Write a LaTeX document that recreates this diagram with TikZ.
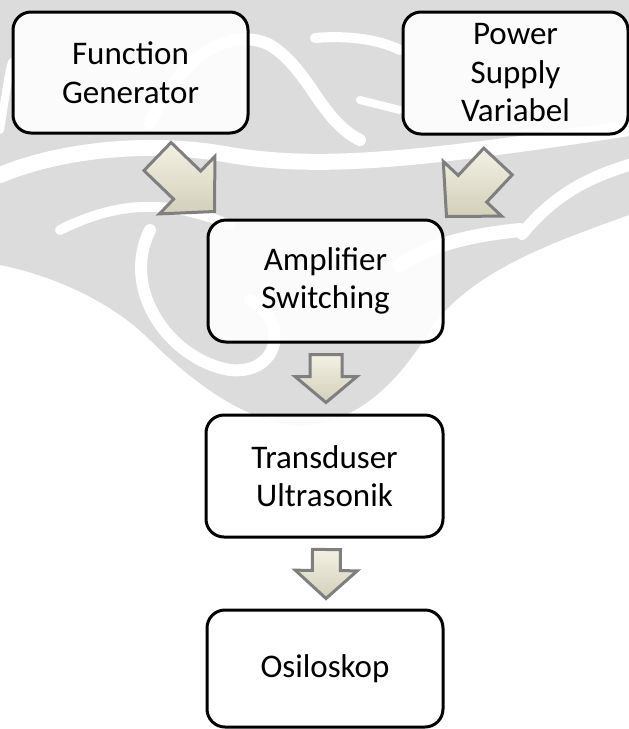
\documentclass[tikz,border=0pt]{standalone}
\usepackage{fontspec}
\setmainfont{Carlito}
\usetikzlibrary{calc}
\definecolor{wm}{HTML}{DCDCDC}
\definecolor{arrline}{HTML}{7F7F7F}
\definecolor{arrlight}{HTML}{F3F1E4}
\definecolor{arrdark}{HTML}{D2CFBA}
\tikzset{
  box/.style={draw=black, line width=3pt, rounded corners=18pt, fill=white,
    fill opacity=0.9, text opacity=1, align=center, inner sep=0pt,
    font=\fontsize{33}{38.5}\selectfont},
  blockarrow/.style={draw=arrline, line width=3pt, line join=miter,
    top color=arrlight, bottom color=arrdark},
  wmline/.style={draw=white, line cap=round, line width=#1},
  wmline/.default=12pt
}
\newcommand\blockarr[5]{%
  \coordinate (ba-s) at #1;
  \coordinate (ba-e) at #2;
  \coordinate (ba-m) at ($(ba-e)!#5!(ba-s)$);
  \draw[blockarrow] ($(ba-s)!#3!90:(ba-e)$) -- ($(ba-m)!#3!90:(ba-e)$)
    -- ($(ba-m)!#4!90:(ba-e)$) -- (ba-e) -- ($(ba-m)!#4!-90:(ba-e)$)
    -- ($(ba-m)!#3!-90:(ba-e)$) -- ($(ba-s)!#3!-90:(ba-e)$) -- cycle;}
\begin{document}
\begin{tikzpicture}[x=1pt,y=-1pt]
\useasboundingbox (0,0) rectangle (629,729);
% watermark
\fill[wm] (0,0) -- (629,0) -- (629,215)
  .. controls (560,240) and (470,270) .. (430,330)
  .. controls (400,380) and (360,420) .. (310,425)
  .. controls (260,430) and (200,390) .. (150,340)
  .. controls (110,300) and (50,275) .. (0,265) -- cycle;
\draw[wmline=16pt] (0,175) .. controls (60,150) and (150,140) .. (230,155)
  .. controls (320,170) and (420,160) .. (629,128);
\draw[wmline=12pt] (150,123) .. controls (190,40) and (240,30) .. (270,45)
  .. controls (310,70) and (320,120) .. (360,140);
\draw[wmline=10pt] (315,38) .. controls (350,35) and (380,40) .. (400,50);
\draw[wmline=8pt] (360,100) -- (400,110);
\draw[wmline=8pt] (0,130) .. controls (5,100) and (8,75) .. (12,62);
\draw[wmline=12pt] (150,230) .. controls (120,290) and (170,360) .. (230,370)
  .. controls (280,375) and (290,320) .. (250,300);
\draw[wmline=10pt] (60,230) .. controls (120,200) and (170,200) .. (230,225);
\draw[wmline=14pt] (400,265) .. controls (430,245) and (470,235) .. (520,230);
\draw[wmline=12pt] (522,234) .. controls (550,200) and (580,180) .. (629,165);
% boxes
\node[box, minimum width=235pt, minimum height=121pt] (fg) at (130.5,72.5) {Function\\Generator};
\node[box, minimum width=225pt, minimum height=122pt] (ps) at (515.5,73) {Power\\Supply\\Variabel};
\node[box, minimum width=235pt, minimum height=122pt] (amp) at (325.5,281) {Amplifier\\Switching};
\node[box, minimum width=237pt, minimum height=122pt] (tr) at (324.5,476) {Transduser\\Ultrasonik};
\node[box, minimum width=236pt, minimum height=117pt] (osc) at (325,668.5) {Osiloskop};
% arrows
\blockarr{($(fg.south)+(27,22)$)}{($(amp.north west)+(8,-7)$)}{19.5pt}{40pt}{38pt}
\blockarr{($(ps.south)+(-17.5,26)$)}{($(amp.north east)+(2,-2)$)}{19.5pt}{40pt}{38pt}
\blockarr{($(amp.south)+(0.5,11)$)}{($(tr.north)+(1.5,-11)$)}{16pt}{31pt}{26pt}
\blockarr{($(tr.south)+(2,11)$)}{($(osc.north)+(1,-10)$)}{14pt}{31pt}{28pt}
\end{tikzpicture}
\end{document}
